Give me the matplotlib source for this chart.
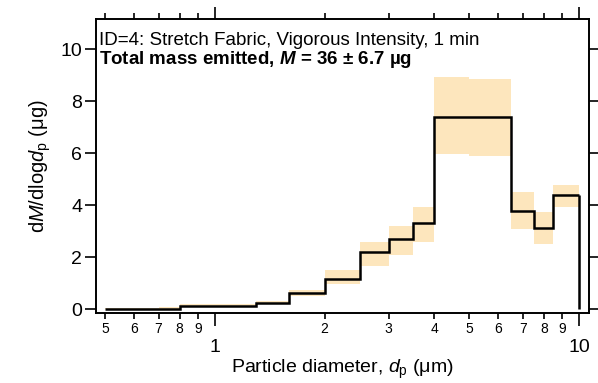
import matplotlib
matplotlib.use('Agg')
import matplotlib.pyplot as plt
import numpy as np
from matplotlib.ticker import FixedLocator, FixedFormatter

plt.rcParams['font.family'] = ['Liberation Sans', 'DejaVu Sans']
plt.rcParams['mathtext.fontset'] = 'custom'
plt.rcParams['mathtext.rm'] = 'Liberation Sans'
plt.rcParams['mathtext.it'] = 'Liberation Sans:italic'
plt.rcParams['mathtext.bf'] = 'Liberation Sans:bold'
plt.rcParams['mathtext.bfit'] = 'Liberation Sans:italic:bold'

# bin edges (um) and dM/dlogdp values (ug)
edges = [0.5, 0.6, 0.7, 0.8, 1.0, 1.3, 1.6, 2.0, 2.5, 3.0, 3.5, 4.0, 5.0, 6.5, 7.5, 8.5, 10.0]
values = [0.01, 0.01, 0.02, 0.13, 0.13, 0.23, 0.62, 1.17, 2.20, 2.70, 3.32, 7.37, 7.37, 3.78, 3.10, 4.37]
lower = [0.0, 0.0, 0.0, 0.08, 0.08, 0.18, 0.50, 0.96, 1.65, 2.08, 2.58, 5.95, 5.88, 3.09, 2.50, 3.91]
upper = [0.03, 0.03, 0.08, 0.18, 0.20, 0.30, 0.72, 1.50, 2.59, 3.20, 3.91, 8.93, 8.85, 4.50, 3.74, 4.78]

minor_ticks = [0.5, 0.6, 0.7, 0.8, 0.9, 2, 3, 4, 5, 6, 7, 8, 9]
minor_labels = ['5', '6', '7', '8', '9', '2', '3', '4', '5', '6', '7', '8', '9']
major_ticks = [1, 10]
major_labels = ['1', '10']

fig = plt.figure(figsize=(5.98, 3.83), dpi=100)
ax = fig.add_axes([0.1605, 0.1835, 0.8245, 0.7665])

# uncertainty band
e = np.array(edges)
lo = np.array(lower)
hi = np.array(upper)
ax.bar(e[:-1], hi - lo, width=np.diff(e), bottom=lo, align='edge',
       color='#fde6bd', linewidth=0, zorder=1)

# histogram line
ax.stairs(values, edges, baseline=None, color='black', linewidth=1.8, zorder=3)
ax.vlines(edges[-1], 0, values[-1], color='black', linewidth=1.8, zorder=3)

ax.set_xscale('log')
ax.set_xlim(0.471, 10.65)
ax.set_ylim(-0.14, 11.15)

ax.xaxis.set_major_locator(FixedLocator(major_ticks))
ax.xaxis.set_major_formatter(FixedFormatter(major_labels))
ax.xaxis.set_minor_locator(FixedLocator(minor_ticks))
ax.xaxis.set_minor_formatter(FixedFormatter(minor_labels))
ax.set_yticks([0, 2, 4, 6, 8, 10])

for s in ax.spines.values():
    s.set_linewidth(1.4)

ax.tick_params(axis='both', which='both', direction='out', top=True, right=True,
               labeltop=False, labelright=False, width=1.2)
ax.tick_params(axis='x', which='major', length=9, labelsize=14, pad=10)
ax.tick_params(axis='x', which='minor', length=4.5, labelsize=10, pad=2)
ax.tick_params(axis='y', which='major', length=8, labelsize=14, pad=2)

ax.set_xlabel(r'Particle diameter, $\mathit{d}_\mathrm{p}$ ($\mathrm{\mu}$m)', fontsize=14, labelpad=1)
ax.set_ylabel(r'd$\mathit{M}$/dlog$\mathit{d}_\mathrm{p}$ ($\mathrm{\mu}$g)', fontsize=14.5, labelpad=5)

ax.text(0.006, 0.9115, 'ID=4: Stretch Fabric, Vigorous Intensity, 1 min',
        transform=ax.transAxes, fontsize=13.5, va='baseline', ha='left')
ax.text(0.006, 0.846, r'Total mass emitted, $\mathbfit{M}$ = 36 ± 6.7 µg',
        transform=ax.transAxes, fontsize=13.5, fontweight='bold', va='baseline', ha='left')

fig.savefig('out.png', dpi=100)
